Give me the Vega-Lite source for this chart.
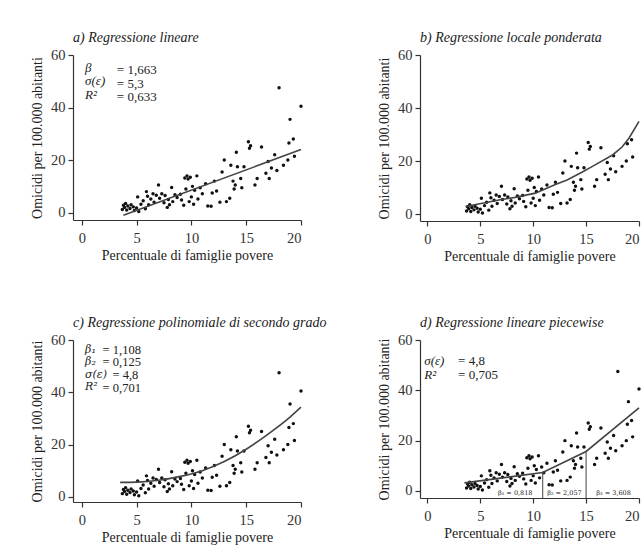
{
  "$schema": "https://vega.github.io/schema/vega-lite/v6.json",
  "background": "white",
  "padding": {"left": 30, "top": 31, "right": 4, "bottom": 4},
  "datasets": {
    "points": [
      {"x":3.7,"y":1.2},{"x":3.8,"y":2.8},{"x":3.9,"y":2.0},{"x":4.0,"y":3.5},{"x":4.1,"y":1.0},{"x":4.2,"y":2.5},{"x":4.4,"y":1.6},{"x":4.5,"y":3.0},{"x":4.7,"y":2.2},{"x":4.8,"y":0.8},
      {"x":5.0,"y":1.8},{"x":5.1,"y":6.0},{"x":5.2,"y":0.4},{"x":5.4,"y":3.2},{"x":5.6,"y":4.5},{"x":5.8,"y":1.5},{"x":5.9,"y":8.0},{"x":6.0,"y":6.2},{"x":6.1,"y":3.0},{"x":6.3,"y":5.2},
      {"x":6.5,"y":7.2},{"x":6.6,"y":4.0},{"x":6.8,"y":6.6},{"x":7.0,"y":10.5},{"x":7.1,"y":5.5},{"x":7.3,"y":7.2},{"x":7.5,"y":3.8},{"x":7.6,"y":6.5},{"x":7.8,"y":2.0},{"x":7.9,"y":5.0},
      {"x":8.0,"y":3.0},{"x":8.2,"y":9.6},{"x":8.3,"y":4.2},{"x":8.5,"y":6.8},{"x":8.7,"y":5.8},{"x":9.0,"y":7.0},{"x":9.1,"y":4.8},{"x":9.3,"y":2.8},{"x":9.4,"y":13.2},{"x":9.5,"y":9.0},
      {"x":9.6,"y":14.0},{"x":9.7,"y":12.8},{"x":9.8,"y":4.2},{"x":9.9,"y":13.5},{"x":10.0,"y":6.0},{"x":10.1,"y":10.0},{"x":10.2,"y":3.2},{"x":10.3,"y":8.5},{"x":10.5,"y":14.0},{"x":10.6,"y":5.2},
      {"x":10.8,"y":9.5},{"x":11.0,"y":7.2},{"x":11.3,"y":11.0},{"x":11.5,"y":2.5},{"x":11.8,"y":2.4},{"x":11.9,"y":7.5},{"x":12.1,"y":12.0},{"x":12.3,"y":8.2},{"x":12.6,"y":4.0},{"x":12.8,"y":15.5},
      {"x":13.0,"y":20.0},{"x":13.2,"y":4.2},{"x":13.5,"y":5.5},{"x":13.6,"y":18.0},{"x":13.8,"y":12.0},{"x":13.9,"y":9.0},{"x":14.0,"y":10.5},{"x":14.1,"y":23.0},{"x":14.2,"y":17.5},{"x":14.5,"y":13.0},
      {"x":14.6,"y":9.5},{"x":14.8,"y":17.5},{"x":15.2,"y":27.0},{"x":15.3,"y":24.5},{"x":15.4,"y":25.5},{"x":15.8,"y":10.5},{"x":16.0,"y":13.0},{"x":16.4,"y":25.0},{"x":16.8,"y":15.0},{"x":17.0,"y":19.5},
      {"x":17.1,"y":13.0},{"x":17.3,"y":17.0},{"x":17.6,"y":22.0},{"x":17.8,"y":16.0},{"x":18.0,"y":47.5},{"x":18.4,"y":18.0},{"x":18.8,"y":20.0},{"x":18.9,"y":26.5},{"x":19.0,"y":35.5},{"x":19.3,"y":28.0},
      {"x":19.4,"y":21.5},{"x":20.0,"y":40.5}
    ],
    "fit_a": [{"x":3.8,"y":-1},{"x":20,"y":24}],
    "fit_b": [{"x":3.6,"y":2.9},{"x":5.2,"y":4.1},{"x":7,"y":5.5},{"x":8.3,"y":6.3},{"x":10.2,"y":7.9},{"x":12.1,"y":11.2},{"x":13.2,"y":12.9},{"x":14.6,"y":15.8},{"x":15.6,"y":18},{"x":17.5,"y":22.3},{"x":18.4,"y":25.3},{"x":19.05,"y":28.6},{"x":20,"y":35}],
    "fit_c": [{"x":3.5,"y":5.5},{"x":5,"y":5.6},{"x":7,"y":6.3},{"x":9,"y":7.8},{"x":11,"y":10},{"x":13,"y":13.5},{"x":15,"y":18.2},{"x":17,"y":24},{"x":19,"y":30.5},{"x":20,"y":34.3}],
    "fit_d": [{"x":3.5,"y":3.2},{"x":10.9,"y":7.3},{"x":15,"y":15.7},{"x":20,"y":33}]
  },
  "config": {
    "font": "Liberation Serif",
    "view": {"stroke": null},
    "axis": {
      "grid": false, "domainColor": "#333", "tickColor": "#333", "labelColor": "#333", "titleColor": "#222",
      "labelFont": "Liberation Serif", "titleFont": "Liberation Serif", "labelFontSize": 14.5, "titleFontSize": 14,
      "titleFontWeight": "normal", "tickSize": 5, "domainWidth": 1.2, "tickWidth": 1.2
    },
    "axisX": {"labelPadding": 6, "titlePadding": 4},
    "axisY": {"labelPadding": 3, "titlePadding": 6},
    "title": {"font": "Liberation Serif", "fontStyle": "italic", "fontWeight": "normal", "fontSize": 14, "anchor": "start", "frame": "group", "color": "#222", "offset": 2},
    "text": {"font": "Liberation Serif", "color": "#222"}
  },
  "columns": 2,
  "spacing": {"row": 52, "column": 50},
  "concat": [
    {
      "title": "a) Regressione lineare",
      "width": 228, "height": 165,
      "layer": [
        {
          "data": {"name": "points"},
          "mark": {"type": "circle", "size": 12, "color": "#111", "opacity": 1},
          "encoding": {
            "x": {"field": "x", "type": "quantitative", "scale": {"domain": [-0.8, 20], "nice": false, "zero": false}, "axis": {"values": [0,5,10,15,20], "title": "Percentuale di famiglie povere"}},
            "y": {"field": "y", "type": "quantitative", "scale": {"domain": [-2.8, 60], "nice": false, "zero": false}, "axis": {"values": [0,20,40,60], "title": "Omicidi per 100.000 abitanti"}}
          }
        },
        {
          "data": {"name": "fit_a"},
          "mark": {"type": "line", "color": "#444", "strokeWidth": 1.6},
          "encoding": {"x": {"field": "x", "type": "quantitative"}, "y": {"field": "y", "type": "quantitative"}}
        },
        {
          "data": {"values": [{}]},
          "mark": {"type": "text", "text": ["β", "σ(ε)", "R²"], "align": "left", "baseline": "top", "fontSize": 13, "lineHeight": 13.5, "fontStyle": "italic"},
          "encoding": {"x": {"datum": 0.3}, "y": {"datum": 57.5}}
        },
        {
          "data": {"values": [{}]},
          "mark": {"type": "text", "text": ["= 1,663", "= 5,3", "= 0,633"], "align": "left", "baseline": "top", "fontSize": 13, "lineHeight": 13.5},
          "encoding": {"x": {"datum": 3.2}, "y": {"datum": 56.5}}
        }
      ]
    },
    {
      "title": "b) Regressione locale ponderata",
      "width": 219, "height": 166,
      "layer": [
        {
          "data": {"name": "points"},
          "transform": [{"filter": "datum.y < 30"}],
          "mark": {"type": "circle", "size": 12, "color": "#111", "opacity": 1},
          "encoding": {
            "x": {"field": "x", "type": "quantitative", "scale": {"domain": [-0.7, 20], "nice": false, "zero": false}, "axis": {"values": [0,5,10,15,20], "title": "Percentuale di famiglie povere"}},
            "y": {"field": "y", "type": "quantitative", "scale": {"domain": [-2.6, 60], "nice": false, "zero": false}, "axis": {"values": [0,20,40,60], "title": "Omicidi per 100.000 abitanti"}}
          }
        },
        {
          "data": {"name": "fit_b"},
          "mark": {"type": "line", "color": "#444", "strokeWidth": 1.6},
          "encoding": {"x": {"field": "x", "type": "quantitative"}, "y": {"field": "y", "type": "quantitative"}}
        }
      ]
    },
    {
      "title": "c) Regressione polinomiale di secondo grado",
      "width": 228, "height": 162,
      "layer": [
        {
          "data": {"name": "points"},
          "mark": {"type": "circle", "size": 12, "color": "#111", "opacity": 1},
          "encoding": {
            "x": {"field": "x", "type": "quantitative", "scale": {"domain": [-0.8, 20], "nice": false, "zero": false}, "axis": {"values": [0,5,10,15,20], "title": "Percentuale di famiglie povere"}},
            "y": {"field": "y", "type": "quantitative", "scale": {"domain": [-2.0, 60], "nice": false, "zero": false}, "axis": {"values": [0,20,40,60], "title": "Omicidi per 100.000 abitanti"}}
          }
        },
        {
          "data": {"name": "fit_c"},
          "mark": {"type": "line", "color": "#444", "strokeWidth": 1.6, "interpolate": "monotone"},
          "encoding": {"x": {"field": "x", "type": "quantitative"}, "y": {"field": "y", "type": "quantitative"}}
        },
        {
          "data": {"values": [{}]},
          "mark": {"type": "text", "text": ["β₁", "β₂", "σ(ε)", "R²"], "font": "DejaVu Serif", "align": "left", "baseline": "top", "fontSize": 11, "lineHeight": 12.5, "fontStyle": "italic"},
          "encoding": {"x": {"datum": 0.3}, "y": {"datum": 58.5}}
        },
        {
          "data": {"values": [{}]},
          "mark": {"type": "text", "text": ["= 1,108", "= 0,125"], "align": "left", "baseline": "top", "fontSize": 12.5, "lineHeight": 12.5},
          "encoding": {"x": {"datum": 1.9}, "y": {"datum": 58.5}}
        },
        {
          "data": {"values": [{}]},
          "mark": {"type": "text", "text": "= 4,8", "align": "left", "baseline": "top", "fontSize": 12.5},
          "encoding": {"x": {"datum": 2.8}, "y": {"datum": 48.9}}
        },
        {
          "data": {"values": [{}]},
          "mark": {"type": "text", "text": "= 0,701", "align": "left", "baseline": "top", "fontSize": 12.5},
          "encoding": {"x": {"datum": 1.9}, "y": {"datum": 44.1}}
        }
      ]
    },
    {
      "title": "d) Regressione lineare piecewise",
      "width": 219, "height": 158,
      "layer": [
        {
          "data": {"name": "points"},
          "mark": {"type": "circle", "size": 12, "color": "#111", "opacity": 1},
          "encoding": {
            "x": {"field": "x", "type": "quantitative", "scale": {"domain": [-0.7, 20], "nice": false, "zero": false}, "axis": {"values": [0,5,10,15,20], "title": "Percentuale di famiglie povere"}},
            "y": {"field": "y", "type": "quantitative", "scale": {"domain": [-2.8, 60], "nice": false, "zero": false}, "axis": {"values": [0,20,40,60], "title": "Omicidi per 100.000 abitanti"}}
          }
        },
        {
          "data": {"name": "fit_d"},
          "mark": {"type": "line", "color": "#444", "strokeWidth": 1.6},
          "encoding": {"x": {"field": "x", "type": "quantitative"}, "y": {"field": "y", "type": "quantitative"}}
        },
        {
          "data": {"values": [{}]},
          "mark": {"type": "rule", "color": "#444", "strokeWidth": 1},
          "encoding": {"x": {"datum": 10.9}, "y": {"datum": -2.8}, "y2": {"datum": 7.3}}
        },
        {
          "data": {"values": [{}]},
          "mark": {"type": "rule", "color": "#444", "strokeWidth": 1},
          "encoding": {"x": {"datum": 15}, "y": {"datum": -2.8}, "y2": {"datum": 15.7}}
        },
        {
          "data": {"values": [{}]},
          "mark": {"type": "text", "text": "β₁ = 0,818", "font": "DejaVu Serif", "align": "center", "baseline": "middle", "fontSize": 6.5},
          "encoding": {"x": {"datum": 8.3}, "y": {"datum": -1.0}}
        },
        {
          "data": {"values": [{}]},
          "mark": {"type": "text", "text": "β₂ = 2,057", "font": "DejaVu Serif", "align": "center", "baseline": "middle", "fontSize": 6.5},
          "encoding": {"x": {"datum": 12.95}, "y": {"datum": -1.0}}
        },
        {
          "data": {"values": [{}]},
          "mark": {"type": "text", "text": "β₃ = 3,608", "font": "DejaVu Serif", "align": "center", "baseline": "middle", "fontSize": 6.5},
          "encoding": {"x": {"datum": 17.6}, "y": {"datum": -1.0}}
        },
        {
          "data": {"values": [{}]},
          "mark": {"type": "text", "text": ["σ(ε)", "R²"], "align": "left", "baseline": "top", "fontSize": 13, "lineHeight": 13.5, "fontStyle": "italic"},
          "encoding": {"x": {"datum": -0.3}, "y": {"datum": 54}}
        },
        {
          "data": {"values": [{}]},
          "mark": {"type": "text", "text": ["= 4,8", "= 0,705"], "align": "left", "baseline": "top", "fontSize": 13, "lineHeight": 13.5},
          "encoding": {"x": {"datum": 2.9}, "y": {"datum": 54}}
        }
      ]
    }
  ]
}
